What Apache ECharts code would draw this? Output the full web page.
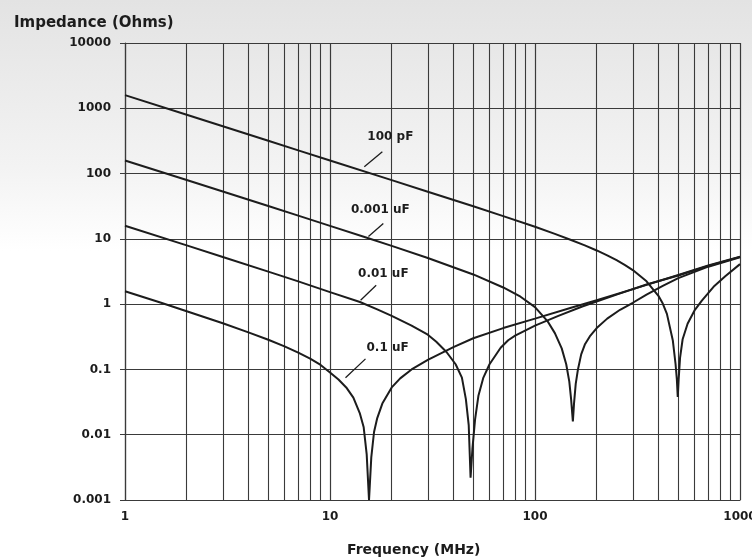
<!DOCTYPE html>
<html>
<head>
<meta charset="utf-8">
<script src="https://cdn.jsdelivr.net/npm/echarts@6/dist/echarts.min.js"></script>
<style>html,body{margin:0;padding:0;background:#fff}#c{width:752px;height:558px}</style>
</head>
<body>
<div id="c"></div>
<script>
// ---- data (frequency in MHz, impedance in Ohms) ----
const freq100pF = [1, 2, 3, 5, 7, 10, 20, 30, 50, 70, 100, 125, 150, 175, 200, 225, 250, 275, 300, 350, 400, 420, 440, 470, 485, 492, 497, 502, 510, 525, 555, 600, 650, 750, 850, 1000];
const imp100pF  = [1590, 795, 530, 318, 227, 159, 79.4, 52.8, 31.5, 22.3, 15.3, 11.9, 9.6, 7.95, 6.64, 5.59, 4.71, 3.97, 3.33, 2.24, 1.34, 1.02, 0.71, 0.28, 0.12, 0.07, 0.038, 0.07, 0.15, 0.29, 0.5, 0.8, 1.12, 1.9, 2.7, 4.1];

const freq1nF = [1, 2, 3, 5, 7, 10, 15, 20, 30, 50, 70, 85, 100, 115, 125, 135, 142, 147, 150, 153, 155, 158, 162, 168, 175, 185, 200, 225, 260, 300, 350, 420, 500, 700, 1000];
const imp1nF  = [159, 79.6, 53, 31.8, 22.7, 15.8, 10.5, 7.8, 5.1, 2.85, 1.8, 1.3, 0.9, 0.55, 0.36, 0.21, 0.12, 0.065, 0.035, 0.016, 0.03, 0.06, 0.1, 0.17, 0.24, 0.32, 0.43, 0.6, 0.82, 1.05, 1.4, 1.9, 2.5, 3.75, 5.2];

const freq10nF = [1, 2, 3, 5, 7, 10, 14, 17, 20, 25, 30, 33, 37, 41, 44, 46, 47.5, 48.5, 49.5, 51, 53, 56, 60, 68, 74, 80, 100, 130, 170, 250, 350, 500, 700, 1000];
const imp10nF  = [15.9, 7.95, 5.28, 3.15, 2.23, 1.53, 1.08, 0.83, 0.66, 0.47, 0.34, 0.265, 0.185, 0.12, 0.075, 0.035, 0.014, 0.0022, 0.006, 0.017, 0.04, 0.075, 0.12, 0.215, 0.28, 0.33, 0.47, 0.66, 0.92, 1.4, 2.0, 2.75, 3.85, 5.3];

const freq100nF = [1, 1.5, 2, 3, 4, 5, 6, 7, 8, 9, 10, 11, 12, 13, 14, 14.6, 15.1, 15.5, 15.9, 16.4, 17, 18, 20, 22, 25, 30, 40, 50, 70, 100, 150, 200, 300, 500, 700, 1000];
const imp100nF  = [1.58, 1.05, 0.78, 0.51, 0.37, 0.285, 0.226, 0.181, 0.146, 0.117, 0.09, 0.07, 0.053, 0.037, 0.021, 0.013, 0.005, 0.001, 0.0045, 0.011, 0.018, 0.03, 0.053, 0.073, 0.1, 0.14, 0.22, 0.3, 0.43, 0.6, 0.88, 1.15, 1.7, 2.8, 3.9, 5.35];

const seriesNames = ['100 pF', '0.001 uF', '0.01 uF', '0.1 uF'];

// label anchor [freq, impedance] and leader line ends
const labelPos   = [[19.7, 363], [17.6, 28], [18.2, 2.87], [19.1, 0.214]];
const leaderFrom = [[14.7, 127], [15.4, 10.9], [14.1, 1.15], [11.9, 0.0745]];
const leaderTo   = [[18.0, 215], [18.2, 17.2], [16.8, 1.95], [14.9, 0.145]];

// intermediate vertical grid lines
const xMinorGrid = [2,3,4,5,6,7,8,9,20,30,40,50,60,70,80,90,200,300,400,500,600,700,800,900];
const yTickLabels = ['0.001','0.01','0.1','1','10','100','1000','10000'];

const freqs = [freq100pF, freq1nF, freq10nF, freq100nF];
const imps  = [imp100pF, imp1nF, imp10nF, imp100nF];

const FONT = 'DejaVu Sans';
const INK = '#1c1c1c';
const GRID = '#3a3a3a';

const series = seriesNames.map((name, i) => ({
  name: name,
  type: 'line',
  data: freqs[i].map((f, k) => [f, imps[i][k]]),
  showSymbol: false,
  symbol: 'none',
  lineStyle: { color: INK, width: 2 },
  z: 5,
  markLine: {
    silent: true,
    symbol: 'none',
    label: { show: false },
    lineStyle: { color: INK, width: 1.3, type: 'solid' },
    data: [[{ coord: leaderFrom[i] }, { coord: leaderTo[i] }]]
  },
  markPoint: {
    silent: true,
    symbol: 'circle',
    symbolSize: 2,
    itemStyle: { color: 'rgba(0,0,0,0)' },
    label: {
      show: true, position: 'inside', formatter: name,
      color: INK, fontFamily: FONT, fontWeight: 'bold', fontSize: 12
    },
    data: [{ coord: labelPos[i], name: name }]
  }
}));

// helper series for the minor vertical grid lines
series.push({
  name: 'grid',
  type: 'line',
  data: [],
  z: 1,
  markLine: {
    silent: true,
    symbol: 'none',
    label: { show: false },
    lineStyle: { color: GRID, width: 1.1, type: 'solid' },
    data: xMinorGrid.map(v => ({ xAxis: v }))
  }
});

const chart = echarts.init(document.getElementById('c'), null, { renderer: 'canvas' });
chart.setOption({
  animation: false,
  backgroundColor: {
    type: 'linear', x: 0, y: 0, x2: 0, y2: 1,
    colorStops: [
      { offset: 0, color: '#e3e3e3' },
      { offset: 0.3, color: '#f3f3f3' },
      { offset: 0.45, color: '#ffffff' },
      { offset: 1, color: '#ffffff' }
    ]
  },
  title: [
    { text: 'Impedance (Ohms)', left: 9, top: 11,
      textStyle: { fontFamily: FONT, fontWeight: 'bold', fontSize: 15, color: INK } },
    { text: 'Frequency (MHz)', left: 342, top: 538,
      textStyle: { fontFamily: FONT, fontWeight: 'bold', fontSize: 14, color: INK } }
  ],
  grid: { left: 125, top: 43, width: 615, height: 457, containLabel: false, outerBoundsMode: 'none' },
  xAxis: {
    type: 'log', logBase: 10, min: 1, max: 1000,
    axisLine: { show: true, lineStyle: { color: GRID, width: 1.2 } },
    axisTick: { show: false },
    splitLine: { show: true, lineStyle: { color: GRID, width: 1.2 } },
    axisLabel: {
      color: INK, fontFamily: FONT, fontWeight: 'bold', fontSize: 12, margin: 11,
      hideOverlap: false,
      formatter: v => String(Number(v.toPrecision(3)))
    }
  },
  yAxis: {
    type: 'log', logBase: 10, min: 0.001, max: 10000,
    axisLine: { show: true, lineStyle: { color: GRID, width: 1.2 } },
    axisTick: { show: true, length: 5, lineStyle: { color: GRID } },
    splitLine: { show: true, lineStyle: { color: GRID, width: 1.2 } },
    axisLabel: {
      color: INK, fontFamily: FONT, fontWeight: 'bold', fontSize: 12, margin: 14,
      formatter: v => {
        const e = Math.round(Math.log10(v));
        return yTickLabels[e + 3] || String(v);
      }
    }
  },
  series: series
});
</script>
</body>
</html>
